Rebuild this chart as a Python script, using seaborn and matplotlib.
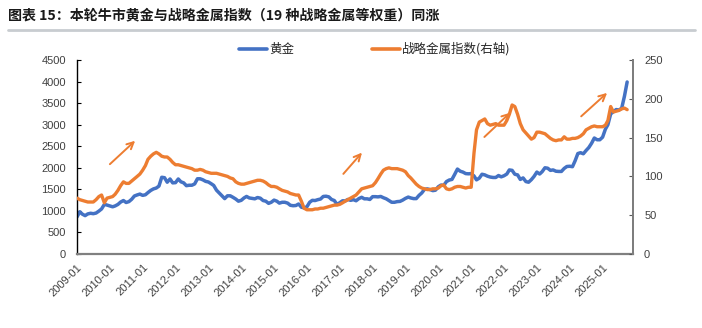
import numpy as np
import pandas as pd
import matplotlib
matplotlib.use("Agg")
import matplotlib.pyplot as plt
import matplotlib.dates as mdates
from matplotlib.lines import Line2D
import seaborn as sns

# ---------------- data ----------------
months = pd.date_range("2009-01-01", "2025-10-01", freq="MS")

gold = [
    860, 980, 925, 890, 930, 945, 935, 950, 995, 1045, 1150, 1135,          # 2009
    1115, 1095, 1115, 1150, 1205, 1240, 1195, 1215, 1270, 1345, 1370, 1390,  # 2010
    1360, 1375, 1425, 1475, 1510, 1530, 1575, 1780, 1770, 1665, 1740, 1650,  # 2011
    1655, 1740, 1675, 1650, 1585, 1595, 1595, 1625, 1745, 1745, 1720, 1685,  # 2012
    1670, 1630, 1590, 1480, 1415, 1345, 1285, 1350, 1350, 1315, 1275, 1225,  # 2013
    1245, 1300, 1335, 1300, 1290, 1280, 1310, 1295, 1240, 1225, 1175, 1200,  # 2014
    1250, 1225, 1180, 1200, 1200, 1180, 1130, 1120, 1125, 1160, 1085, 1070,  # 2015
    1095, 1200, 1245, 1240, 1260, 1275, 1335, 1340, 1325, 1265, 1240, 1150,  # 2016
    1190, 1235, 1230, 1265, 1245, 1260, 1235, 1285, 1315, 1280, 1280, 1265,  # 2017
    1330, 1330, 1325, 1335, 1305, 1280, 1240, 1200, 1200, 1215, 1220, 1250,  # 2018
    1290, 1320, 1300, 1285, 1285, 1360, 1415, 1500, 1510, 1495, 1470, 1480,  # 2019
    1560, 1600, 1590, 1680, 1715, 1730, 1845, 1970, 1920, 1900, 1865, 1860,  # 2020
    1865, 1810, 1720, 1760, 1850, 1835, 1805, 1785, 1775, 1775, 1820, 1790,  # 2021
    1815, 1855, 1950, 1940, 1850, 1835, 1730, 1765, 1680, 1665, 1725, 1800,  # 2022
    1900, 1855, 1910, 2000, 1990, 1940, 1950, 1920, 1915, 1915, 1985, 2030,  # 2023
    2035, 2025, 2160, 2330, 2350, 2325, 2400, 2470, 2570, 2690, 2650, 2650,  # 2024
    2710, 2895, 3000, 3250, 3300, 3350, 3340, 3380, 3660, 3990,              # 2025
]

metal_index = [
    72, 70, 69, 68, 67, 67, 67, 70, 74, 76, 66, 72,            # 2009
    73, 74, 77, 82, 88, 93, 91, 91, 94, 97, 100, 103,          # 2010
    108, 114, 122, 126, 129, 131, 129, 126, 125, 125, 122, 118,  # 2011
    115, 115, 114, 113, 112, 111, 110, 108, 108, 109, 108, 106,  # 2012
    105, 104, 104, 104, 103, 102, 101, 100, 98, 97, 93, 91,    # 2013
    90, 90, 91, 92, 93, 94, 95, 95, 94, 92, 89, 87,            # 2014
    87, 86, 84, 82, 81, 80, 78, 77, 76, 76, 68, 59,            # 2015
    57, 57, 57, 58, 58, 59, 59, 60, 61, 62, 63, 63,            # 2016
    64, 66, 68, 70, 72, 74, 76, 80, 84, 85, 86, 87,            # 2017
    88, 92, 97, 103, 108, 110, 111, 110, 110, 110, 109, 108,   # 2018
    106, 101, 98, 94, 90, 87, 85, 84, 83, 83, 84, 84,          # 2019
    85, 88, 89, 84, 83, 84, 86, 87, 87, 86, 85, 86,            # 2020
    86, 130, 160, 170, 172, 174, 168, 166, 167, 168, 166, 166,  # 2021
    166, 172, 180, 192, 190, 180, 168, 160, 156, 152, 148, 150,  # 2022
    157, 157, 156, 155, 152, 149, 147, 146, 147, 147, 151, 148,  # 2023
    148, 149, 149, 150, 152, 155, 160, 162, 164, 165, 164, 164,  # 2024
    164, 166, 172, 190, 183, 184, 185, 187, 188, 186,          # 2025
]

series_names = ["黄金", "战略金属指数(右轴)"]
title = "图表 15：本轮牛市黄金与战略金属指数（19 种战略金属等权重）同涨"

left_ticks = [0, 500, 1000, 1500, 2000, 2500, 3000, 3500, 4000, 4500]
right_ticks = [0, 50, 100, 150, 200, 250]
year_ticks = pd.date_range("2009-01-01", "2025-01-01", freq="YS")

# trend arrows (tail date, tail value, head date, head value) on the left axis scale
arrow_tails = [("2009-12-10", 2040), ("2017-01-20", 1810), ("2021-05-05", 2670), ("2024-04-15", 3150)]
arrow_heads = [("2010-11-01", 2670), ("2017-09-25", 2400), ("2022-04-01", 3320), ("2025-03-15", 3780)]

df = pd.DataFrame({"date": months, "gold": gold, "index": metal_index})

# ---------------- style ----------------
sns.set_theme(style="white")
plt.rcParams["font.family"] = ["Liberation Sans", "Noto Sans CJK SC", "DejaVu Sans"]

BLUE = "#4472C4"
ORANGE = "#ED7D31"

fig = plt.figure(figsize=(7.02, 3.28), dpi=100)
ax = fig.add_axes([0.1097, 0.2256, 0.7920, 0.5915])
ax2 = ax.twinx()

sns.lineplot(data=df, x="date", y="gold", ax=ax, color=BLUE, linewidth=2.5,
             label=series_names[0], legend=False)
sns.lineplot(data=df, x="date", y="index", ax=ax2, color=ORANGE, linewidth=2.4,
             label=series_names[1], legend=False)

ax.set_xlim(pd.Timestamp("2009-01-01"), pd.Timestamp("2025-12-05"))
ax.set_ylim(0, 4500)
ax2.set_ylim(0, 250)
ax.set_yticks(left_ticks)
ax2.set_yticks(right_ticks)
ax.set_xticks(year_ticks)
ax.xaxis.set_major_formatter(mdates.DateFormatter("%Y-%m"))
ax.set_xlabel("")
ax.set_ylabel("")
ax2.set_ylabel("")

for lab in ax.get_xticklabels():
    lab.set_rotation(45)
    lab.set_ha("right")
    lab.set_rotation_mode("anchor")

ax.tick_params(axis="x", direction="in", length=3, width=0.8, color="#595959",
               labelsize=8, pad=6, labelcolor="#404040")
ax.tick_params(axis="y", direction="in", length=3, width=0.8, color="#000000",
               labelsize=8, pad=8, labelcolor="#404040", left=True)
ax2.tick_params(axis="y", direction="in", length=3, width=0.8, color="#595959",
                labelsize=8, pad=8, labelcolor="#404040", right=True)

for a in (ax, ax2):
    a.spines["top"].set_visible(False)
    a.grid(False)
ax.spines["left"].set_color("#000000")
ax.spines["left"].set_linewidth(1.0)
ax.spines["bottom"].set_color("#808080")
ax.spines["bottom"].set_linewidth(1.6)
ax2.spines["right"].set_color("#808080")
ax2.spines["right"].set_linewidth(1.4)
ax2.spines["left"].set_visible(False)
ax2.spines["bottom"].set_visible(False)

# trend arrows
for (td, tv), (hd, hv) in zip(arrow_tails, arrow_heads):
    ax.annotate("", xy=(pd.Timestamp(hd), hv), xytext=(pd.Timestamp(td), tv),
                arrowprops=dict(arrowstyle="->", color=ORANGE, lw=1.4,
                                mutation_scale=12))

# legend
handles = [Line2D([], [], color=BLUE, lw=2.6), Line2D([], [], color=ORANGE, lw=2.6)]
fig.legend(handles, series_names, loc="center", bbox_to_anchor=(0.5335, 0.85),
           ncol=2, frameon=False, handlelength=2.25, handletextpad=0.15,
           columnspacing=6.2, prop={"family": ["Noto Sans CJK SC"], "size": 9})

# title and separator
fig.text(0.012, 0.953, title, fontsize=10.1, fontweight="bold", color="#1a1a1a",
         family=["Noto Sans CJK SC", "DejaVu Sans"], ha="left", va="center")
fig.add_artist(Line2D([0.012, 0.99], [0.91, 0.91], color="#c8ccd0", lw=2.0))

fig.savefig("out.png", dpi=100, facecolor="white")
